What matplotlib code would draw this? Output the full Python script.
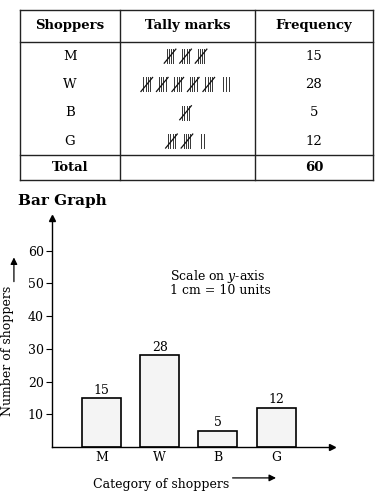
import matplotlib.pyplot as plt

shoppers = ['M', 'W', 'B', 'G']
frequency = [15, 28, 5, 12]
total = 60
y_ticks = [10, 20, 30, 40, 50, 60]
headers = ['Shoppers', 'Tally marks', 'Frequency']

plt.rcParams['font.family'] = 'DejaVu Serif'
plt.rcParams['mathtext.fontset'] = 'dejavuserif'

W, H = 384, 493
fig = plt.figure(figsize=(W / 100, H / 100), dpi=100)

# ---- frequency table, drawn in pixel coordinates ----
tab = fig.add_axes([0, 0, 1, 1])
tab.set_xlim(0, W)
tab.set_ylim(H, 0)
tab.axis('off')

cols = [20, 120, 255, 373]
top, head_bot, row_h = 10, 42, 28.3
tot_top = head_bot + len(shoppers) * row_h
bot = 180
col_mid = [(cols[i] + cols[i + 1]) / 2 for i in range(3)]

for yy in [top, head_bot, tot_top, bot]:
    tab.plot([cols[0], cols[-1]], [yy, yy], color='#222222', lw=1)
for xx in cols:
    tab.plot([xx, xx], [top, bot], color='#222222', lw=1)

for cx, h in zip(col_mid, headers):
    tab.text(cx, (top + head_bot) / 2, h, ha='center', va='center',
             fontsize=9.5, fontweight='bold')


def draw_tally(ax, count, cx, cy):
    # groups of five: four strokes and a slash, then the leftover strokes
    groups, rest = divmod(count, 5)
    pitch, step, gap, hh = 15.5, 2.2, 7, 7
    width = groups * pitch + (rest * step * 1.3 + gap if rest else 0) - 5
    x0 = cx - width / 2
    for g in range(groups):
        gx = x0 + g * pitch
        for k in range(4):
            ax.plot([gx + k * step, gx + k * step], [cy - hh, cy + hh],
                    color='#333333', lw=0.7)
        ax.plot([gx - 2.5, gx + 3 * step + 2.5], [cy + hh, cy - hh],
                color='#111111', lw=0.9)
    sx = x0 + groups * pitch + (gap - 5 if groups else 0)
    for k in range(rest):
        ax.plot([sx + k * step * 1.3] * 2, [cy - hh, cy + hh],
                color='#333333', lw=0.7)


for i, (s, f) in enumerate(zip(shoppers, frequency)):
    cy = head_bot + (i + 0.5) * row_h
    tab.text(col_mid[0], cy, s, ha='center', va='center', fontsize=9.5)
    draw_tally(tab, f, col_mid[1], cy)
    tab.text(col_mid[2], cy, str(f), ha='center', va='center', fontsize=9.5)

tab.text(col_mid[0], (tot_top + bot) / 2, 'Total', ha='center', va='center',
         fontsize=9.5, fontweight='bold')
tab.text(col_mid[2], (tot_top + bot) / 2, str(total), ha='center',
         va='center', fontsize=9.5, fontweight='bold')

tab.text(18, 201, 'Bar Graph', ha='left', va='center', fontsize=11,
         fontweight='bold')

# ---- bar graph ----
ax = fig.add_axes([52 / W, 46 / H, 280 / W, 229 / H])
ax.set_xlim(-0.85, 3.96)
ax.set_ylim(0, 70)
xs = list(range(len(shoppers)))
bars = ax.bar(xs, frequency, width=0.67, facecolor='#f4f4f4',
              edgecolor='black', lw=1.2)
ax.bar_label(bars, padding=1, fontsize=9)

for side in ['top', 'right']:
    ax.spines[side].set_visible(False)
for side in ['left', 'bottom']:
    ax.spines[side].set_linewidth(1)
ax.plot(1, 0, '>k', ms=5, transform=ax.transAxes, clip_on=False)
ax.plot(0, 1, '^k', ms=5, transform=ax.transAxes, clip_on=False)

ax.set_yticks(y_ticks)
ax.tick_params(axis='y', direction='out', length=4, labelsize=9, pad=2)
ax.set_xticks(xs)
ax.set_xticklabels(shoppers)
ax.tick_params(axis='x', length=0, labelsize=9, pad=3)
ax.patch.set_alpha(0)

ax.text(0.42, 0.745, 'Scale on $y$-axis', transform=ax.transAxes,
        fontsize=9, va='center')
ax.text(0.42, 0.685, '1 cm = 10 units', transform=ax.transAxes,
        fontsize=9, va='center')

ax.set_ylabel('Number of shoppers', fontsize=9)
ax.yaxis.set_label_coords(-0.136, 0.42)
ax.annotate('', xy=(-0.136, 0.84), xytext=(-0.136, 0.71),
            xycoords='axes fraction', textcoords='axes fraction',
            arrowprops=dict(arrowstyle='-|>', color='black', lw=0.9),
            annotation_clip=False)

ax.set_xlabel('Category of shoppers', fontsize=9)
ax.xaxis.set_label_coords(0.389, -0.135)
ax.annotate('', xy=(0.81, -0.135), xytext=(0.635, -0.135),
            xycoords='axes fraction', textcoords='axes fraction',
            arrowprops=dict(arrowstyle='-|>', color='black', lw=0.9),
            annotation_clip=False)

fig.savefig('out.png', dpi=100)
